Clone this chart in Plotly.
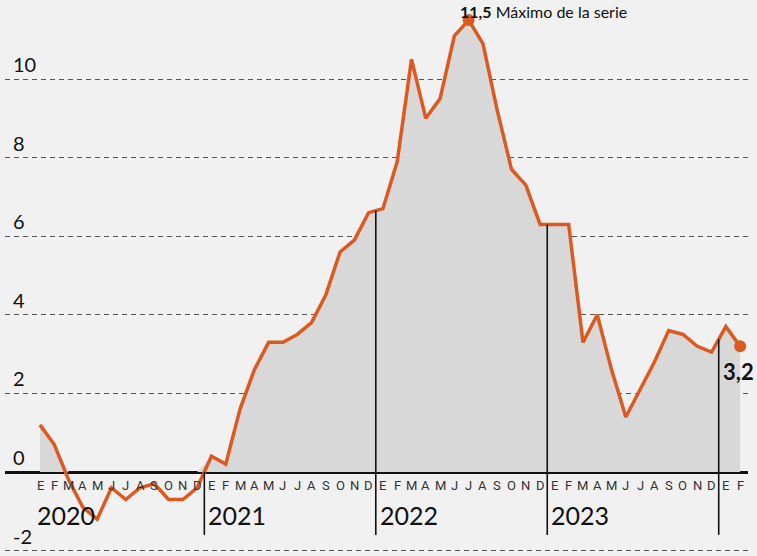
import numpy as np
import plotly.graph_objects as go

# Monthly values, Jan 2020 .. Feb 2024 (%)
v2020 = [1.2, 0.7, -0.2, -0.9, -1.2, -0.4, -0.7, -0.4, -0.3, -0.7, -0.7, -0.4]
v2021 = [0.4, 0.2, 1.6, 2.6, 3.3, 3.3, 3.5, 3.8, 4.5, 5.6, 5.9, 6.6]
v2022 = [6.7, 7.9, 10.5, 9.0, 9.5, 11.1, 11.5, 10.9, 9.2, 7.7, 7.3, 6.3]
v2023 = [6.3, 6.3, 3.3, 4.0, 2.6, 1.4, 2.1, 2.8, 3.6, 3.5, 3.2, 3.05]
v2024 = [3.7, 3.2]

years = ["2020", "2021", "2022", "2023"]
month_letters = ["E", "F", "M", "A", "M", "J", "J", "A", "S", "O", "N", "D"]
y_ticks = [10, 8, 6, 4, 2, 0, -2]

values = v2020 + v2021 + v2022 + v2023 + v2024
n = len(values)
idx = list(range(n))
imax = int(np.argmax(values))
vmax = values[imax]
vlast = values[-1]

LINE = "#dc5a1f"
BG = "#f1f1f1"
FONT = "Lato, 'Open Sans', sans-serif"

fig = go.Figure()

# grey area (positive part)
fig.add_trace(go.Scatter(
    x=idx, y=np.maximum(np.array(values), 0), mode="lines",
    line=dict(width=0), fill="tozeroy", fillcolor="#d8d8d8",
    hoverinfo="skip", showlegend=False))

# orange line
fig.add_trace(go.Scatter(
    x=idx, y=values, mode="lines",
    line=dict(color=LINE, width=3.5), showlegend=False))

# highlighted points
fig.add_trace(go.Scatter(
    x=[imax, n - 1], y=[vmax, vlast], mode="markers",
    marker=dict(color=LINE, size=12), showlegend=False))

shapes = []
annotations = []

# year separators (between December and January)
for k in range(1, len(years) + 1):
    xs = 12 * k - 0.5
    ytop = (values[12 * k - 1] + values[12 * k]) / 2
    shapes.append(dict(type="line", xref="x", yref="y", x0=xs, x1=xs,
                       y0=-1.6, y1=ytop, line=dict(color="#111", width=1.6),
                       layer="above"))

# month letters
for i in range(n):
    annotations.append(dict(x=i, y=0, xref="x", yref="y", text=month_letters[i % 12],
                            showarrow=False, yshift=-13,
                            font=dict(family="Roboto, sans-serif", size=13, color="#333")))

# year labels
for k, yr in enumerate(years):
    annotations.append(dict(x=12 * k - 0.5, y=-1.1, xref="x", yref="y", text=yr,
                            showarrow=False, xanchor="left", xshift=2,
                            font=dict(family=FONT, size=25, color="#111")))

# y tick labels (above the gridlines)
for t in y_ticks:
    annotations.append(dict(x=0, y=t, xref="paper", yref="y", text=str(t),
                            showarrow=False, xanchor="left", xshift=6, yshift=15,
                            font=dict(family=FONT, size=20, color="#111")))

# max annotation
annotations.append(dict(x=imax, y=1, xref="x", yref="paper",
                        text="<b>" + f"{vmax:.1f}".replace(".", ",") + "</b> Máximo de la serie",
                        showarrow=False, xanchor="left", yanchor="top",
                        xshift=-11, yshift=0,
                        font=dict(family=FONT, size=16, color="#111")))

# last value annotation
annotations.append(dict(x=n - 1, y=vlast, xref="x", yref="y",
                        text="<b>" + f"{vlast:.1f}".replace(".", ",") + "</b>",
                        showarrow=False, xanchor="left", xshift=-19, yshift=-25,
                        font=dict(family=FONT, size=22, color="#111")))

fig.update_layout(
    width=757, height=556,
    margin=dict(l=5, r=9, t=0, b=0),
    paper_bgcolor=BG, plot_bgcolor=BG,
    shapes=shapes, annotations=annotations,
    xaxis=dict(range=[-2.45, 49.55], showgrid=False, zeroline=False,
               showticklabels=False, ticks=""),
    yaxis=dict(range=[-2.137, 12.01], tickvals=[t for t in y_ticks if t != 0],
               showticklabels=False, showgrid=True, gridcolor="#555",
               gridwidth=1.3, griddash="5px,4px",
               zeroline=True, zerolinecolor="#111", zerolinewidth=2.5),
)

fig.write_html("out.html", config={"displayModeBar": False},
               post_script="document.body.style.margin='0';document.body.style.background='#f1f1f1';")
